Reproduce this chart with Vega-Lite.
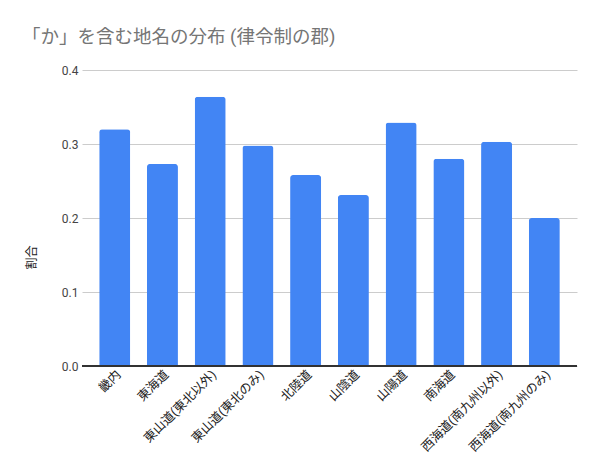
{
  "$schema": "https://vega.github.io/schema/vega-lite/v6.json",
  "autosize": {"type": "none"},
  "width": 495,
  "height": 296,
  "padding": {"left": 82, "top": 70, "right": 23, "bottom": 108},
  "background": "white",
  "title": {
    "text": "「か」を含む地名の分布 (律令制の郡)",
    "anchor": "start",
    "frame": "group",
    "dx": -60,
    "offset": 18,
    "font": "Roboto, Noto Sans CJK JP",
    "fontSize": 18.5,
    "fontWeight": "normal",
    "color": "#757575"
  },
  "data": {
    "values": [
      {"region": "畿内", "ratio": 0.320},
      {"region": "東海道", "ratio": 0.273},
      {"region": "東山道(東北以外)", "ratio": 0.364},
      {"region": "東山道(東北のみ)", "ratio": 0.298},
      {"region": "北陸道", "ratio": 0.258},
      {"region": "山陰道", "ratio": 0.231},
      {"region": "山陽道", "ratio": 0.329},
      {"region": "南海道", "ratio": 0.280},
      {"region": "西海道(南九州以外)", "ratio": 0.303},
      {"region": "西海道(南九州のみ)", "ratio": 0.200}
    ]
  },
  "config": {
    "view": {"stroke": null},
    "font": "Roboto, Noto Sans CJK JP"
  },
  "layer": [
    {
      "mark": {"type": "bar", "color": "#4285F4", "cornerRadiusTopLeft": 3, "cornerRadiusTopRight": 3},
      "encoding": {
        "x": {
          "field": "region",
          "type": "nominal",
          "sort": null,
          "scale": {"paddingInner": 0.35, "paddingOuter": 0.36},
          "axis": {
            "title": null,
            "labelAngle": -45,
            "labelAlign": "right",
            "labelBaseline": "middle",
            "labelFontSize": 12.5,
            "labelColor": "#222222",
            "labelPadding": 6,
            "labelOffset": 4,
            "ticks": false,
            "domain": false,
            "labelOverlap": false,
            "labelLimit": 0
          }
        },
        "y": {
          "field": "ratio",
          "type": "quantitative",
          "scale": {"domain": [0, 0.4]},
          "axis": {
            "title": "割合",
            "titleFontSize": 12,
            "titleFontWeight": "normal",
            "titleColor": "#222222",
            "titleX": -51,
            "titleY": 187,
            "titleAlign": "center",
            "titleBaseline": "middle",
            "values": [0, 0.1, 0.2, 0.3, 0.4],
            "format": ".1f",
            "labelFontSize": 12,
            "labelColor": "#444444",
            "labelPadding": 4,
            "labelOverlap": false,
            "ticks": false,
            "domain": false,
            "gridColor": "#cccccc"
          }
        }
      }
    },
    {
      "mark": {"type": "rule", "color": "#333333", "strokeWidth": 1},
      "encoding": {
        "y": {"datum": 0, "type": "quantitative"}
      }
    }
  ]
}
